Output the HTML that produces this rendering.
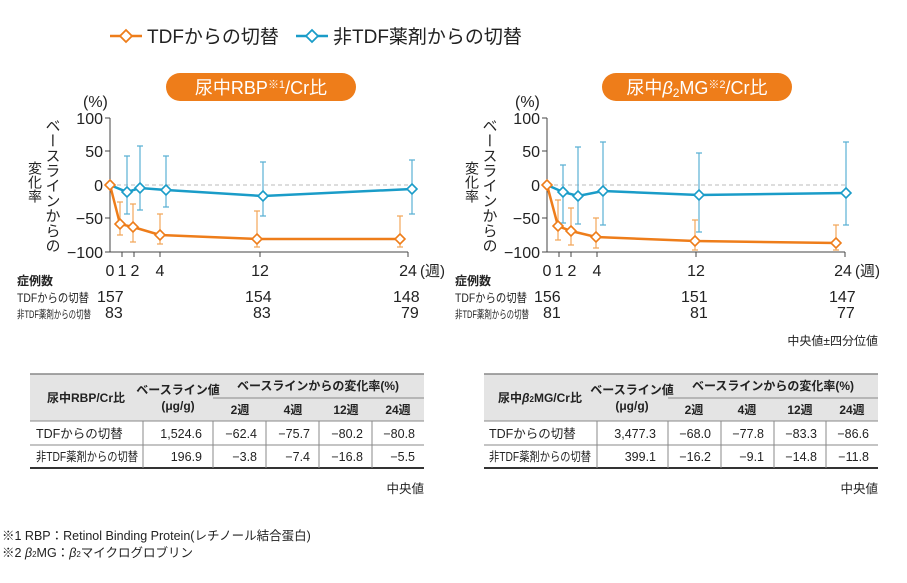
<!DOCTYPE html>
<html><head><meta charset="utf-8"><style>
body{margin:0;background:#fff;width:907px;height:578px;overflow:hidden}
svg{font-family:"Liberation Sans","Noto Sans CJK JP",sans-serif}
</style></head><body>
<svg width="907" height="578" viewBox="0 0 907 578" xmlns="http://www.w3.org/2000/svg">
<g stroke-width="2.5" fill="#fff">
<line x1="110" y1="36" x2="142" y2="36" stroke="#ee7d1a"/><path d="M126 30l6 6-6 6-6-6z" stroke="#ee7d1a" stroke-width="1.8"/>
<line x1="296" y1="36" x2="328" y2="36" stroke="#1a9cc8"/><path d="M312 30l6 6-6 6-6-6z" stroke="#1a9cc8" stroke-width="1.8"/>
</g>
<text x="147" y="43" font-size="19" fill="#222">TDFからの切替</text>
<text x="333" y="43" font-size="19" fill="#222">非TDF薬剤からの切替</text>

<rect x="166" y="73" width="190" height="28" rx="14" fill="#ee7d1a"/>
<text x="261" y="94" font-size="18" fill="#fff" text-anchor="middle">尿中RBP<tspan font-size="11" dy="-6">※1</tspan><tspan dy="6">/Cr比</tspan></text>
<rect x="602" y="73" width="190" height="28" rx="14" fill="#ee7d1a"/>
<text x="697" y="94" font-size="18" fill="#fff" text-anchor="middle">尿中<tspan font-style="italic">β</tspan><tspan font-size="12" dy="3">2</tspan><tspan dy="-3">MG</tspan><tspan font-size="11" dy="-6">※2</tspan><tspan dy="6">/Cr比</tspan></text>

<!-- LEFT CHART -->
<g font-size="16" fill="#222">
<text x="83" y="107">(%)</text>
<text x="103" y="124" text-anchor="end">100</text><text x="103" y="157" text-anchor="end">50</text><text x="103" y="191" text-anchor="end">0</text><text x="103" y="224" text-anchor="end">−50</text><text x="103" y="258" text-anchor="end">−100</text>
<text x="110" y="276" text-anchor="middle">0</text><text x="122" y="276" text-anchor="middle">1</text><text x="135" y="276" text-anchor="middle">2</text><text x="160" y="276" text-anchor="middle">4</text><text x="260" y="276" text-anchor="middle">12</text><text x="408" y="276" text-anchor="middle">24</text><text x="420" y="276" font-size="15">(週)</text>
</g>
<text x="52" y="118" font-size="15" fill="#222" style="writing-mode:vertical-rl">ベースラインからの</text>
<text x="35" y="161" font-size="14" fill="#222" style="writing-mode:vertical-rl">変化率</text>
<g stroke="#444" stroke-width="1"><line x1="110" y1="118" x2="110" y2="252"/><line x1="110" y1="252" x2="408" y2="252"/>
<line x1="105" y1="118" x2="110" y2="118"/><line x1="105" y1="151" x2="110" y2="151"/><line x1="105" y1="185" x2="110" y2="185"/><line x1="105" y1="218" x2="110" y2="218"/><line x1="105" y1="252" x2="110" y2="252"/>
<line x1="122" y1="252" x2="122" y2="257"/><line x1="134" y1="252" x2="134" y2="257"/><line x1="160" y1="252" x2="160" y2="257"/><line x1="260" y1="252" x2="260" y2="257"/><line x1="408" y1="252" x2="408" y2="257"/></g>
<line x1="110" y1="185" x2="410" y2="185" stroke="#bbb" stroke-dasharray="4,3"/>
<g stroke="#f2a65a" stroke-width="1.2">
<path d="M120 235V202M117 235h6M117 202h6"/><path d="M133 242V204M130 242h6M130 204h6"/><path d="M160 244V214M157 244h6M157 214h6"/><path d="M257 247V211M254 247h6M254 211h6"/><path d="M400 247V216M397 247h6M397 216h6"/>
</g>
<g stroke="#5ab0d4" stroke-width="1.2">
<path d="M127 214V156M124 214h6M124 156h6"/><path d="M140 210V146M137 210h6M137 146h6"/><path d="M166 207V156M163 207h6M163 156h6"/><path d="M263 216V162M260 216h6M260 162h6"/><path d="M412 214V160M409 214h6M409 160h6"/>
</g>
<polyline points="110,185 127,192 140,188 166,190 263,196 412,189" fill="none" stroke="#1a9cc8" stroke-width="2.5"/>
<polyline points="110,185 120,224 133,227 160,235 257,239 400,239" fill="none" stroke="#ee7d1a" stroke-width="2.5"/>
<g fill="#fff" stroke-width="1.6">
<g stroke="#1a9cc8"><path d="M127 187l5 5-5 5-5-5z"/><path d="M140 183l5 5-5 5-5-5z"/><path d="M166 185l5 5-5 5-5-5z"/><path d="M263 191l5 5-5 5-5-5z"/><path d="M412 184l5 5-5 5-5-5z"/></g>
<g stroke="#ee7d1a"><path d="M110 180l5 5-5 5-5-5z"/><path d="M120 219l5 5-5 5-5-5z"/><path d="M133 222l5 5-5 5-5-5z"/><path d="M160 230l5 5-5 5-5-5z"/><path d="M257 234l5 5-5 5-5-5z"/><path d="M400 234l5 5-5 5-5-5z"/></g>
</g>
<g fill="#222">
<text x="17" y="285" font-size="12" font-weight="bold">症例数</text>
<text x="17" y="302" font-size="12" textLength="72" lengthAdjust="spacingAndGlyphs">TDFからの切替</text>
<text x="17" y="318" font-size="11" textLength="74" lengthAdjust="spacingAndGlyphs">非TDF薬剤からの切替</text>
<g font-size="16"><text x="97" y="302">157</text><text x="245" y="302">154</text><text x="393" y="302">148</text>
<text x="105" y="318">83</text><text x="253" y="318">83</text><text x="401" y="318">79</text></g>
</g>

<!-- RIGHT CHART -->
<g font-size="16" fill="#222">
<text x="515" y="107">(%)</text>
<text x="540" y="124" text-anchor="end">100</text><text x="540" y="157" text-anchor="end">50</text><text x="540" y="191" text-anchor="end">0</text><text x="540" y="224" text-anchor="end">−50</text><text x="540" y="258" text-anchor="end">−100</text>
<text x="547" y="276" text-anchor="middle">0</text><text x="559" y="276" text-anchor="middle">1</text><text x="572" y="276" text-anchor="middle">2</text><text x="597" y="276" text-anchor="middle">4</text><text x="696" y="276" text-anchor="middle">12</text><text x="843" y="276" text-anchor="middle">24</text><text x="855" y="276" font-size="15">(週)</text>
</g>
<text x="489" y="118" font-size="15" fill="#222" style="writing-mode:vertical-rl">ベースラインからの</text>
<text x="472" y="161" font-size="14" fill="#222" style="writing-mode:vertical-rl">変化率</text>
<g stroke="#444" stroke-width="1"><line x1="547" y1="118" x2="547" y2="252"/><line x1="547" y1="252" x2="845" y2="252"/>
<line x1="542" y1="118" x2="547" y2="118"/><line x1="542" y1="151" x2="547" y2="151"/><line x1="542" y1="185" x2="547" y2="185"/><line x1="542" y1="218" x2="547" y2="218"/><line x1="542" y1="252" x2="547" y2="252"/>
<line x1="559" y1="252" x2="559" y2="257"/><line x1="571" y1="252" x2="571" y2="257"/><line x1="597" y1="252" x2="597" y2="257"/><line x1="696" y1="252" x2="696" y2="257"/><line x1="845" y1="252" x2="845" y2="257"/></g>
<line x1="547" y1="185" x2="847" y2="185" stroke="#bbb" stroke-dasharray="4,3"/>
<g stroke="#f2a65a" stroke-width="1.2">
<path d="M558 240V200M555 240h6M555 200h6"/><path d="M571 245V208M568 245h6M568 208h6"/><path d="M596 248V218M593 248h6M593 218h6"/><path d="M695 250V220M692 250h6M692 220h6"/><path d="M836 250V225M833 250h6M833 225h6"/>
</g>
<g stroke="#5ab0d4" stroke-width="1.2">
<path d="M563 223V165M560 223h6M560 165h6"/><path d="M578 224V147M575 224h6M575 147h6"/><path d="M603 225V142M600 225h6M600 142h6"/><path d="M699 232V153M696 232h6M696 153h6"/><path d="M846 225V142M843 225h6M843 142h6"/>
</g>
<polyline points="547,185 563,192 578,196 603,191 699,195 846,193" fill="none" stroke="#1a9cc8" stroke-width="2.5"/>
<polyline points="547,185 558,226 571,231 596,237 695,241 836,243" fill="none" stroke="#ee7d1a" stroke-width="2.5"/>
<g fill="#fff" stroke-width="1.6">
<g stroke="#1a9cc8"><path d="M563 187l5 5-5 5-5-5z"/><path d="M578 191l5 5-5 5-5-5z"/><path d="M603 186l5 5-5 5-5-5z"/><path d="M699 190l5 5-5 5-5-5z"/><path d="M846 188l5 5-5 5-5-5z"/></g>
<g stroke="#ee7d1a"><path d="M547 180l5 5-5 5-5-5z"/><path d="M558 221l5 5-5 5-5-5z"/><path d="M571 226l5 5-5 5-5-5z"/><path d="M596 232l5 5-5 5-5-5z"/><path d="M695 236l5 5-5 5-5-5z"/><path d="M836 238l5 5-5 5-5-5z"/></g>
</g>
<g fill="#222">
<text x="455" y="285" font-size="12" font-weight="bold">症例数</text>
<text x="455" y="302" font-size="12" textLength="72" lengthAdjust="spacingAndGlyphs">TDFからの切替</text>
<text x="455" y="318" font-size="11" textLength="74" lengthAdjust="spacingAndGlyphs">非TDF薬剤からの切替</text>
<g font-size="16"><text x="534" y="302">156</text><text x="681" y="302">151</text><text x="829" y="302">147</text>
<text x="543" y="318">81</text><text x="690" y="318">81</text><text x="837" y="318">77</text></g>
<text x="878" y="345" font-size="12" text-anchor="end">中央値±四分位値</text>
</g>

<!-- TABLES -->
<g font-size="12.5" fill="#222">
<rect x="30" y="374" width="394" height="47" fill="#e4e4e4"/>
<g stroke="#888" stroke-width="1">
<line x1="30" y1="374" x2="424" y2="374" stroke-width="1.5"/><line x1="30" y1="421" x2="424" y2="421"/><line x1="30" y1="445" x2="424" y2="445"/><line x1="30" y1="468" x2="424" y2="468" stroke="#333" stroke-width="2"/>
<line x1="213" y1="398" x2="424" y2="398"/>
<line x1="143" y1="421" x2="143" y2="468"/><line x1="213" y1="421" x2="213" y2="468"/><line x1="266" y1="421" x2="266" y2="468"/><line x1="319" y1="421" x2="319" y2="468"/><line x1="372" y1="421" x2="372" y2="468"/>
</g>
<g font-weight="bold" font-size="12"><text x="86" y="402" text-anchor="middle">尿中RBP/Cr比</text><text x="178" y="394" text-anchor="middle">ベースライン値</text><text x="178" y="410" text-anchor="middle">(μg/g)</text>
<text x="318" y="390" text-anchor="middle">ベースラインからの変化率(%)</text>
<text x="240" y="414" text-anchor="middle">2週</text><text x="293" y="414" text-anchor="middle">4週</text><text x="346" y="414" text-anchor="middle">12週</text><text x="398" y="414" text-anchor="middle">24週</text></g>
<text x="36" y="438">TDFからの切替</text><text x="36" y="461" textLength="102" lengthAdjust="spacingAndGlyphs">非TDF薬剤からの切替</text>
<g text-anchor="end"><text x="202" y="438">1,524.6</text><text x="257" y="438">−62.4</text><text x="310" y="438">−75.7</text><text x="363" y="438">−80.2</text><text x="415" y="438">−80.8</text>
<text x="202" y="461">196.9</text><text x="257" y="461">−3.8</text><text x="310" y="461">−7.4</text><text x="363" y="461">−16.8</text><text x="415" y="461">−5.5</text></g>
<text x="424" y="493" text-anchor="end">中央値</text>

<rect x="484" y="374" width="394" height="47" fill="#e4e4e4"/>
<g stroke="#888" stroke-width="1">
<line x1="484" y1="374" x2="878" y2="374" stroke-width="1.5"/><line x1="484" y1="421" x2="878" y2="421"/><line x1="484" y1="445" x2="878" y2="445"/><line x1="484" y1="468" x2="878" y2="468" stroke="#333" stroke-width="2"/>
<line x1="668" y1="398" x2="878" y2="398"/>
<line x1="597" y1="421" x2="597" y2="468"/><line x1="668" y1="421" x2="668" y2="468"/><line x1="721" y1="421" x2="721" y2="468"/><line x1="774" y1="421" x2="774" y2="468"/><line x1="826" y1="421" x2="826" y2="468"/>
</g>
<g font-weight="bold" font-size="12"><text x="540" y="402" text-anchor="middle">尿中<tspan font-style="italic">β</tspan><tspan font-size="8">2</tspan>MG/Cr比</text><text x="632" y="394" text-anchor="middle">ベースライン値</text><text x="632" y="410" text-anchor="middle">(μg/g)</text>
<text x="773" y="390" text-anchor="middle">ベースラインからの変化率(%)</text>
<text x="694" y="414" text-anchor="middle">2週</text><text x="747" y="414" text-anchor="middle">4週</text><text x="800" y="414" text-anchor="middle">12週</text><text x="852" y="414" text-anchor="middle">24週</text></g>
<text x="489" y="438">TDFからの切替</text><text x="489" y="461" textLength="102" lengthAdjust="spacingAndGlyphs">非TDF薬剤からの切替</text>
<g text-anchor="end"><text x="656" y="438">3,477.3</text><text x="711" y="438">−68.0</text><text x="764" y="438">−77.8</text><text x="817" y="438">−83.3</text><text x="869" y="438">−86.6</text>
<text x="656" y="461">399.1</text><text x="711" y="461">−16.2</text><text x="764" y="461">−9.1</text><text x="817" y="461">−14.8</text><text x="869" y="461">−11.8</text></g>
<text x="878" y="493" text-anchor="end">中央値</text>

<text x="2" y="540" font-size="12.5">※1 RBP：Retinol Binding Protein(レチノール結合蛋白)</text>
<text x="2" y="557" font-size="12.5">※2 <tspan font-style="italic">β</tspan><tspan font-size="8">2</tspan>MG：<tspan font-style="italic">β</tspan><tspan font-size="8">2</tspan>マイクログロブリン</text>
</g>
</svg>
</body></html>
